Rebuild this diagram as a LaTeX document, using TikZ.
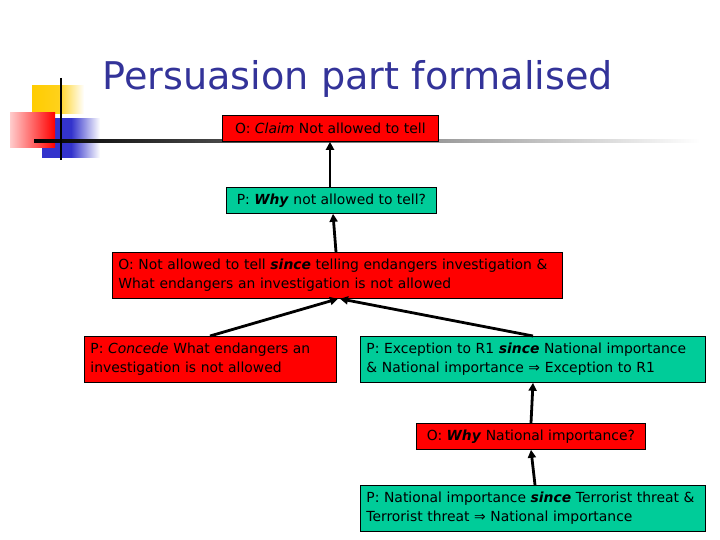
\documentclass[tikz,border=0pt]{standalone}
\usepackage{fontspec}
\setmainfont{DejaVu Sans}
\usetikzlibrary{arrows.meta, positioning}
\definecolor{titleblue}{HTML}{333399}
\definecolor{oppred}{HTML}{FF0000}
\definecolor{proteal}{HTML}{00CC99}
\definecolor{deco yellow}{HTML}{FFCC00}
\definecolor{deco blue}{HTML}{3333CC}

\begin{document}
\begin{tikzpicture}[
  x=1pt, y=-1pt,
  font=\fontsize{13.9}{19}\selectfont,
  box/.style={draw=black, line width=0.8pt, inner xsep=6pt, inner ysep=2pt,
              anchor=north west, align=left},
  obox/.style={box, fill=oppred},
  pbox/.style={box, fill=proteal},
  ar/.style={-{Triangle[length=8pt,width=8pt]}, line width=2.8pt, draw=black}]

\useasboundingbox (0,0) rectangle (720,540);

% corner decoration
\shade[left color=deco yellow, right color=white, middle color=deco yellow!90] (32,86) rectangle (84,114);
\shade[left color=deco blue, right color=white, middle color=deco blue] (42,119) rectangle (100,158);
\shade[left color=oppred!20, right color=oppred] (10,113) rectangle (55,148);
\shade[left color=black, right color=white] (34,140) rectangle (700,142.5);
\draw[line width=2pt] (61,78) -- (61,160);

\node[anchor=base west, text=titleblue, font=\fontsize{38.2}{40}\selectfont] (title) at (99,90) {Persuasion part formalised};

% dialogue moves
\node[obox, minimum width=216pt, minimum height=26pt, align=center] (claim) at (222,115)
  {O: \textit{Claim} Not allowed to tell};
\node[pbox, minimum width=210pt, minimum height=26pt, align=center] (why) at (226,187)
  {P: \textbf{\textit{Why}} not allowed to tell?};
\node[obox, text width=438pt, minimum height=46pt] (since) at (112,252)
  {O: Not allowed to tell \textbf{\textit{since}} telling endangers investigation \&\\What endangers an investigation is not allowed};
\node[obox, text width=240pt, minimum height=46pt] (concede) at (84,336)
  {P: \textit{Concede} What endangers an\\investigation is not allowed};
\node[pbox, text width=333pt, minimum height=46pt] (except) at (360,336)
  {P: Exception to R1 \textbf{\textit{since}} National importance\\\& National importance ⇒ Exception to R1};
\node[obox, minimum width=229pt, minimum height=26pt, align=center] (whynat) at (416,423)
  {O: \textbf{\textit{Why}} National importance?};
\node[pbox, text width=333pt, minimum height=46pt] (terror) at (360,485)
  {P: National importance \textbf{\textit{since}} Terrorist threat \&\\Terrorist threat ⇒ National importance};

\draw[ar] (why.north -| 330,0) -- (claim.south -| 330,0);
\draw[ar] (since.north -| 336,0) -- (why.south -| 333,0);
\draw[ar] (concede.north -| 210,0) -- (since.south -| 338,0);
\draw[ar] (except.north -| 533,0) -- (since.south -| 340,0);
\draw[ar] (whynat.north -| 531,0) -- (except.south -| 533,0);
\draw[ar] (terror.north -| 535,0) -- (whynat.south -| 531,0);
\end{tikzpicture}
\end{document}
